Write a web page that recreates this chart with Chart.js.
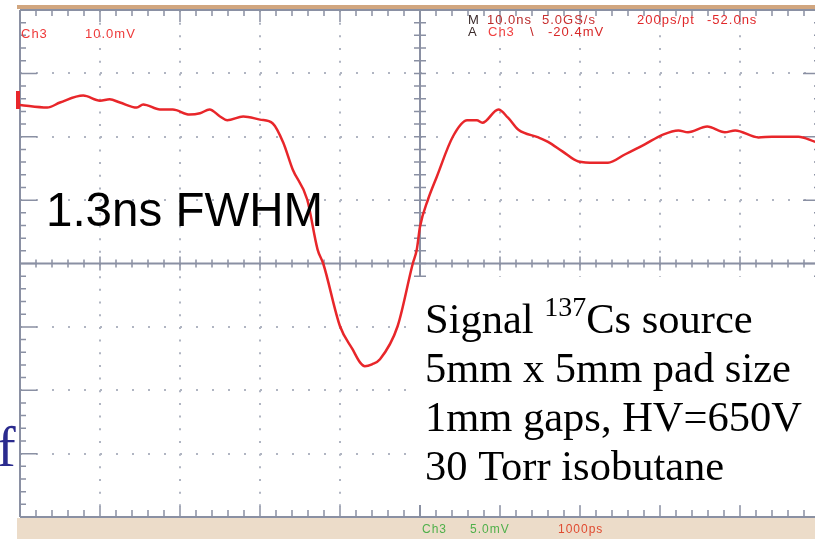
<!DOCTYPE html>
<html lang="en">
<head>
    <meta charset="UTF-8">
    <title>Signal 137Cs source</title>
    <script src="https://cdn.jsdelivr.net/npm/chart.js"></script>
    <style>
        body { margin: 0; padding: 0; background: #ffffff; }
        canvas { display: block; }
    </style>
</head>
<body>
    <canvas id="scope" width="815" height="539"></canvas>

    <script>
        // trace: time in ns (1 ns/div), signal in mV (5 mV/div)
        const timeNs = [-5.0, -4.66, -4.5, -4.21, -4.0, -3.88, -3.75, -3.54, -3.46, -3.25, -3.09, -2.88, -2.75, -2.63, -2.5, -2.41, -2.21, -2.0, -1.84, -1.71, -1.59, -1.41, -1.28, -1.21, -1.0, -0.84, -0.75, -0.69, -0.6, -0.5, -0.28, -0.09, -0.04, 0, 0.1, 0.21, 0.41, 0.59, 0.71, 0.78, 0.98, 1.1, 1.23, 1.48, 1.6, 1.78, 1.98, 2.19, 2.35, 2.56, 2.81, 3.03, 3.23, 3.35, 3.59, 3.81, 3.94, 4.23, 4.4, 4.73, 4.94, 5.0];
        const signalMv = [12.5, 12.3, 12.7, 13.25, 12.85, 12.95, 12.7, 12.3, 12.55, 12.15, 12.15, 11.75, 11.85, 12.15, 11.6, 11.3, 11.6, 11.35, 11.05, 9.55, 7.4, 5.05, 1.1, 0, -4.95, -6.8, -7.8, -8.1, -7.95, -7.55, -4.95, 0, 1.1, 2.9, 5.05, 6.85, 10.0, 11.3, 11.3, 11.1, 12.15, 11.5, 10.55, 9.95, 9.6, 8.85, 8.05, 7.95, 7.95, 8.6, 9.4, 10.15, 10.5, 10.35, 10.8, 10.35, 10.5, 9.95, 10.0, 10.0, 9.6, 9.5];

        // graticule divisions
        const xDivs = [-5, -4, -3, -2, -1, 0, 1, 2, 3, 4];
        const yDivs = [-20, -15, -10, -5, 0, 5, 10, 15, 20];

        // notes on the screen
        const topLine1 = [['M', '#3a2a2a', 468], ['10.0ns', '#b82a2a', 487], ['5.0GS/s', '#c83030', 542], ['200ps/pt', '#e0282a', 637], ['-52.0ns', '#e0282a', 707]];
        const topLine2 = [['A', '#3a2a2a', 468], ['Ch3', '#f04040', 488], ['\\', '#c02020', 530], ['-20.4mV', '#d82828', 548]];
        const chLabels = [['Ch3', '#ee3a3a', 21], ['10.0mV', '#ee3a3a', 85]];
        const bottomLabels = [['Ch3', '#4fb04a', 422], ['5.0mV', '#4fb04a', 470], ['1000ps', '#e04a30', 558]];
        const fwhmText = '1.3ns FWHM';
        const boxLines = ['5mm x 5mm pad size', '1mm gaps, HV=650V', '30 Torr isobutane'];

        const axisColor = '#8a90a3';
        const dotColor = '#b0b5c2';
        const traceColor = '#e8262a';

        function drawGraticule(chart) {
            const ctx = chart.ctx;
            const x = chart.scales.x, y = chart.scales.y;
            const x0 = x.getPixelForValue(0), y0 = y.getPixelForValue(0);
            const left = x.getPixelForValue(-5), right = x.getPixelForValue(5);
            const top = y.getPixelForValue(20), bottom = y.getPixelForValue(-20);
            ctx.save();
            ctx.strokeStyle = axisColor;
            ctx.lineWidth = 2;
            ctx.beginPath();
            ctx.moveTo(left, y0); ctx.lineTo(right, y0);
            ctx.moveTo(x0, top); ctx.lineTo(x0, bottom);
            ctx.moveTo(left, top); ctx.lineTo(left, bottom);
            ctx.moveTo(left, top); ctx.lineTo(right, top);
            ctx.moveTo(left, bottom); ctx.lineTo(right, bottom);
            ctx.moveTo(right, top); ctx.lineTo(right, bottom);
            ctx.stroke();

            ctx.lineWidth = 1.5;
            ctx.beginPath();
            for (let i = -25; i <= 25; i++) {
                const px = x.getPixelForValue(i * 0.2);
                const major = i % 5 === 0;
                ctx.moveTo(px, y0 - (major ? 7 : 4)); ctx.lineTo(px, y0 + (major ? 7 : 4));
                ctx.moveTo(px, top); ctx.lineTo(px, top + (major ? 12 : 6));
                ctx.moveTo(px, bottom); ctx.lineTo(px, bottom - (major ? 11 : 7));
            }
            for (let j = -20; j <= 20; j++) {
                const py = y.getPixelForValue(j);
                const major = j % 5 === 0;
                ctx.moveTo(x0 - 6, py); ctx.lineTo(x0 + 6, py);
                ctx.moveTo(left, py); ctx.lineTo(left + (major ? 17 : 6), py);
                ctx.moveTo(right, py); ctx.lineTo(right - (major ? 17 : 6), py);
            }
            ctx.stroke();
            ctx.restore();
        }

        function drawRow(ctx, items, baseline) {
            items.forEach(function (it) {
                ctx.fillStyle = it[1];
                ctx.fillText(it[0], it[2], baseline);
            });
        }

        const scopePlugin = {
            id: 'scope',
            beforeDraw: function (chart) {
                const ctx = chart.ctx;
                ctx.save();
                ctx.fillStyle = '#ffffff';
                ctx.fillRect(0, 0, chart.width, chart.height);
                ctx.fillStyle = '#d1a67f';
                ctx.fillRect(17, 5, chart.width - 17, 4);
                ctx.fillStyle = '#ecdcc9';
                ctx.fillRect(17, 518, chart.width - 17, chart.height - 518);
                ctx.restore();
            },
            beforeDatasetsDraw: function (chart) {
                drawGraticule(chart);
            },
            afterDatasetsDraw: function (chart) {
                const ctx = chart.ctx;
                const y = chart.scales.y;
                ctx.save();
                // ground level marker
                ctx.fillStyle = traceColor;
                const gy = y.getPixelForValue(12.9);
                ctx.fillRect(16, gy - 9, 4, 18);

                ctx.font = '13px "Liberation Sans", Arial, sans-serif';
                ctx.letterSpacing = '1px';
                ctx.textBaseline = 'alphabetic';
                drawRow(ctx, topLine1, 24);
                drawRow(ctx, topLine2, 36);
                drawRow(ctx, chLabels, 38);
                ctx.font = '12px "Liberation Sans", Arial, sans-serif';
                drawRow(ctx, bottomLabels, 533);
                ctx.letterSpacing = '0px';

                ctx.fillStyle = '#000000';
                ctx.font = '47.5px "Liberation Sans", Arial, sans-serif';
                ctx.fillText(fwhmText, 46, 226);

                // note box
                ctx.fillStyle = '#ffffff';
                ctx.fillRect(411, 277, chart.width - 411, 228);
                ctx.fillStyle = '#000000';
                const serif = '"Liberation Serif", "Times New Roman", serif';
                ctx.font = '42.5px ' + serif;
                let tx = 425;
                ctx.fillText('Signal ', tx, 333);
                tx += ctx.measureText('Signal ').width;
                ctx.font = '28px ' + serif;
                ctx.fillText('137', tx, 316);
                tx += ctx.measureText('137').width;
                ctx.font = '42.5px ' + serif;
                ctx.fillText('Cs source', tx, 333);
                boxLines.forEach(function (s, i) {
                    ctx.fillText(s, 425, 382 + i * 49);
                });

                // cut-off letter from the slide
                ctx.fillStyle = '#2b2b8e';
                ctx.font = '56px ' + serif;
                ctx.fillText('f', -3, 466);
                ctx.restore();
            }
        };

        const ctx = document.getElementById('scope').getContext('2d');
        const chart = new Chart(ctx, {
            type: 'line',
            data: {
                datasets: [{
                    label: 'Ch3',
                    data: timeNs.map((t, i) => ({ x: t, y: signalMv[i] })),
                    borderColor: traceColor,
                    borderWidth: 2.5,
                    pointRadius: 0,
                    cubicInterpolationMode: 'monotone',
                    fill: false
                }]
            },
            options: {
                responsive: false,
                devicePixelRatio: 1,
                animation: false,
                layout: { padding: { left: 20, top: 10, right: 0, bottom: 22 } },
                plugins: {
                    legend: { display: false },
                    tooltip: { enabled: false }
                },
                scales: {
                    x: {
                        type: 'linear',
                        min: -5,
                        max: 4.9375,
                        afterBuildTicks: function (scale) {
                            scale.ticks = xDivs.map(v => ({ value: v }));
                        },
                        ticks: { display: false },
                        border: { display: false, dash: [2, 10.675] },
                        grid: {
                            drawTicks: false,
                            lineWidth: 2,
                            color: c => (c.tick && (c.tick.value === 0 || c.tick.value === -5)) ? 'rgba(0,0,0,0)' : dotColor
                        }
                    },
                    y: {
                        min: -20,
                        max: 20,
                        afterBuildTicks: function (scale) {
                            scale.ticks = yDivs.map(v => ({ value: v }));
                        },
                        ticks: { display: false },
                        border: { display: false, dash: [2, 14] },
                        grid: {
                            drawTicks: false,
                            lineWidth: 2,
                            color: c => (c.tick && (Math.abs(c.tick.value) === 20 || c.tick.value === 0)) ? 'rgba(0,0,0,0)' : dotColor
                        }
                    }
                }
            },
            plugins: [scopePlugin]
        });
    </script>
</body>
</html>
